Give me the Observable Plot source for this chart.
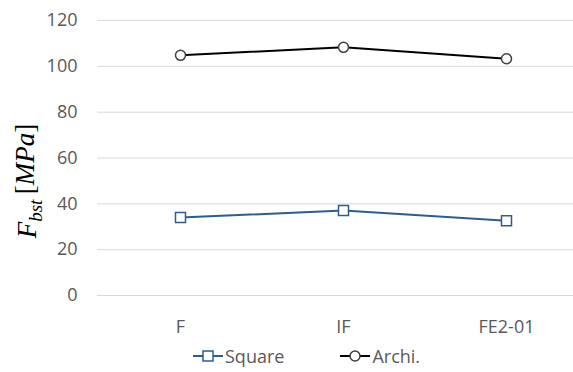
<!DOCTYPE html>
<html>
<head>
<meta charset="utf-8">
<script src="https://cdn.jsdelivr.net/npm/d3@7"></script>
<script src="https://cdn.jsdelivr.net/npm/@observablehq/plot@0.6"></script>
<style>
  html, body { margin: 0; padding: 0; background: #fff; }
  #chart { width: 573px; position: relative; }
  .legend { height: 32px; display: flex; align-items: center; padding-left: 193px; font-family: "Open Sans", sans-serif; font-size: 18px; color: #595959; }
  .legend .item { display: flex; align-items: center; }
  .legend svg { margin-right: 2px; }
</style>
</head>
<body>
<div id="chart"></div>
<script>
const categories = ["F", "IF", "FE2-01"];
const squareValues = [34.0, 37.1, 32.6];
const archiValues = [104.8, 108.3, 103.3];
const seriesNames = ["Square", "Archi."];
const seriesColors = ["#2F5C8A", "#000000"];
const markerStroke = ["#2F5C8A", "#404040"];
const yTicks = [0, 20, 40, 60, 80, 100, 120];

const rows = [];
categories.forEach((c, i) => rows.push({cat: c, value: squareValues[i], series: seriesNames[0]}));
categories.forEach((c, i) => rows.push({cat: c, value: archiValues[i], series: seriesNames[1]}));

const plot = Plot.plot({
  width: 573,
  height: 340,
  marginLeft: 97,
  marginRight: 0,
  marginTop: 20,
  marginBottom: 45,
  style: {fontFamily: "'Open Sans', sans-serif", fontSize: "18px", color: "#595959", background: "#fff"},
  x: {type: "point", domain: categories, range: [179, 506], padding: 0, label: null},
  y: {domain: [0, 120], label: null},
  marks: [
    Plot.ruleY(yTicks, {stroke: "#d9d9d9", strokeWidth: 1}),
    Plot.axisY({ticks: yTicks, tickSize: 0, tickPadding: 20, tickFormat: d => String(d), label: null, fill: "#595959"}),
    Plot.axisX({tickSize: 0, tickPadding: 25, label: null, fill: "#595959"}),
    Plot.line(rows, {x: "cat", y: "value", z: "series", stroke: d => seriesColors[seriesNames.indexOf(d.series)], strokeWidth: 2}),
    Plot.dot(rows.filter(d => d.series === seriesNames[0]), {x: "cat", y: "value", symbol: "square", r: 5.64, fill: "#fff", stroke: markerStroke[0], strokeWidth: 1.5}),
    Plot.dot(rows.filter(d => d.series === seriesNames[1]), {x: "cat", y: "value", symbol: "circle", r: 5, fill: "#fff", stroke: markerStroke[1], strokeWidth: 1.5})
  ]
});

// y-axis title with subscript
const svg = d3.select(plot);
const t = svg.append("text")
  .attr("transform", "translate(36,181) rotate(-90)")
  .attr("text-anchor", "middle")
  .attr("font-family", "'Liberation Serif', serif")
  .attr("font-style", "italic")
  .attr("font-size", 27)
  .attr("fill", "#000");
t.append("tspan").text("F");
t.append("tspan").attr("font-size", 19).attr("dy", "0.3em").text("bst");
t.append("tspan").attr("dy", "-0.3em").attr("font-size", 27).attr("font-style", "normal").text("\u2009[");
t.append("tspan").attr("font-size", 27).text("MPa");
t.append("tspan").attr("font-size", 27).attr("font-style", "normal").text("]");

document.getElementById("chart").appendChild(plot);

// legend
const legend = document.createElement("div");
legend.className = "legend";
seriesNames.forEach((name, i) => {
  const item = document.createElement("div");
  item.className = "item";
  item.style.marginRight = i === 0 ? "56px" : "0";
  const sw = d3.create("svg").attr("width", 30).attr("height", 14);
  sw.append("line").attr("x1", 0).attr("x2", 30).attr("y1", 7).attr("y2", 7).attr("stroke", seriesColors[i]).attr("stroke-width", 2);
  if (i === 0) {
    sw.append("rect").attr("x", 10).attr("y", 2).attr("width", 10).attr("height", 10).attr("fill", "#fff").attr("stroke", markerStroke[0]).attr("stroke-width", 1.5);
  } else {
    sw.append("circle").attr("cx", 15).attr("cy", 7).attr("r", 5).attr("fill", "#fff").attr("stroke", markerStroke[1]).attr("stroke-width", 1.5);
  }
  item.appendChild(sw.node());
  const label = document.createElement("span");
  label.textContent = name;
  item.appendChild(label);
  legend.appendChild(item);
});
document.getElementById("chart").appendChild(legend);
</script>
</body>
</html>
